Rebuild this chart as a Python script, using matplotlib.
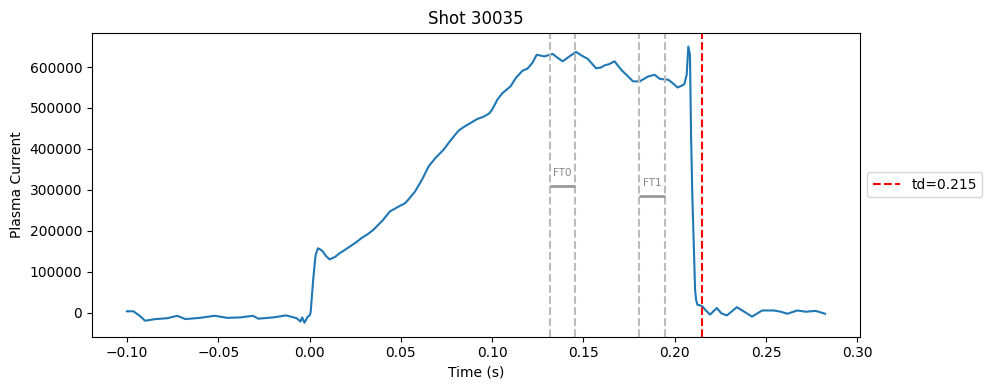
import matplotlib
matplotlib.use("Agg")
import matplotlib.pyplot as plt
import numpy as np

shot = 30035
td = 0.215

time = [-0.1000, -0.0964, -0.0930, -0.0900, -0.0844, -0.0780, -0.0725, -0.0680, -0.0600,
        -0.0520, -0.0450, -0.0380, -0.0310, -0.0280, -0.0200, -0.0128, -0.0070, -0.0050,
        -0.0040, -0.0028, -0.0010, 0.0000, 0.0006, 0.0020, 0.0033, 0.0046, 0.0060,
        0.0073, 0.0090, 0.0110, 0.0140, 0.0165, 0.0190, 0.0220, 0.0250, 0.0285, 0.0320,
        0.0349, 0.0400, 0.0440, 0.0496, 0.0523, 0.0545, 0.0578, 0.0615, 0.0652, 0.0688,
        0.0734, 0.0771, 0.0817, 0.0850, 0.0881, 0.0918, 0.0950, 0.0982, 0.1000, 0.1019,
        0.1028, 0.1056, 0.1101, 0.1129, 0.1166, 0.1193, 0.1220, 0.1244, 0.1285, 0.1331,
        0.1360, 0.1386, 0.1420, 0.1459, 0.1490, 0.1523, 0.1569, 0.1597, 0.1615, 0.1640,
        0.1670, 0.1707, 0.1744, 0.1771, 0.1808, 0.1854, 0.1890, 0.1918, 0.1964, 0.1990,
        0.2015, 0.2040, 0.2052, 0.2065, 0.2074, 0.2083, 0.2089, 0.2096, 0.2105, 0.2111,
        0.2117, 0.2124, 0.2135, 0.2151, 0.2170, 0.2193, 0.2230, 0.2255, 0.2285, 0.2340,
        0.2380, 0.2423, 0.2478, 0.2542, 0.2580, 0.2616, 0.2671, 0.2716, 0.2771, 0.2823]
current = [3000, 3000, -8000, -20000, -16000, -14000, -8000, -16000, -13000,
           -8000, -13000, -12000, -8000, -15000, -12000, -7000, -14000, -22000,
           -12000, -25000, -10000, -8000, 0, 80000, 140000, 157000, 154000,
           149000, 138000, 130000, 136000, 145000, 152000, 161000, 170000, 182000, 192000,
           202000, 225000, 247000, 261000, 267000, 278000, 296000, 324000, 357000, 377000,
           398000, 420000, 445000, 455000, 463000, 473000, 478000, 486000, 496000, 512000,
           520000, 536000, 553000, 573000, 591000, 596000, 610000, 630000, 626000, 632000,
           622000, 614000, 625000, 637000, 628000, 620000, 597000, 599000, 604000, 607000,
           614000, 593000, 577000, 565000, 565000, 577000, 581000, 571000, 569000, 560000,
           550000, 555000, 558000, 581000, 650000, 630000, 434000, 284000, 150000, 55000,
           30000, 19000, 18000, 15000, 5000, -5000, 11000, -2000, -7000, 13000,
           2000, -10000, 5000, 5000, 2000, -3000, 5000, 2000, 4000, -3000]

ft_names = ["FT0", "FT1"]
ft_start = [0.1316, 0.1806]
ft_end = [0.1454, 0.1944]
ft_level = [310000, 285000]

fig, ax = plt.subplots(figsize=(9.89, 3.90), dpi=100)
fig.subplots_adjust(left=0.093, right=0.8696, top=0.916, bottom=0.137)

ax.plot(time, current, color="#1f77b4", lw=1.5)

for name, s, e, lvl in zip(ft_names, ft_start, ft_end, ft_level):
    ax.axvline(s, color="#bbbbbb", ls="--", lw=1.5)
    ax.axvline(e, color="#bbbbbb", ls="--", lw=1.5)
    ax.hlines(lvl, s, e, color="#999999", lw=2)
    ax.text((s + e) / 2, lvl + 20000, name, color="#888888", fontsize=7.5,
            ha="center", va="bottom")

ax.axvline(td, color="red", ls="--", lw=1.5, label=f"td={td}")

ax.set_title(f"Shot {shot}")
ax.set_xlabel("Time (s)")
ax.set_ylabel("Plasma Current")
ax.legend(loc="center left", bbox_to_anchor=(1.0, 0.5))

fig.savefig("out.png", dpi=100)
